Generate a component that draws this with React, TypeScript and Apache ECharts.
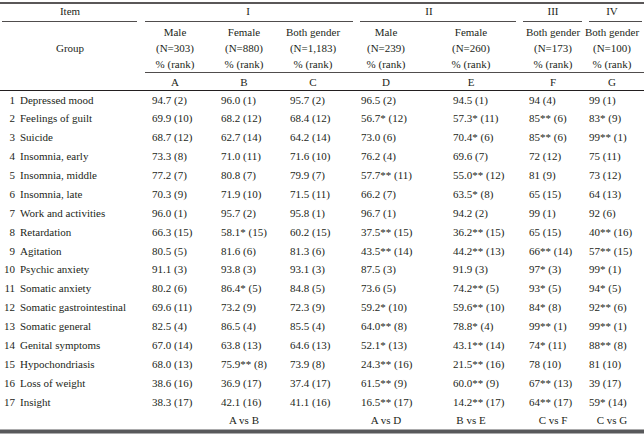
import React, { useEffect, useRef } from "react";
import * as echarts from "echarts";

const items = ["Depressed mood", "Feelings of guilt", "Suicide", "Insomnia, early", "Insomnia, middle", "Insomnia, late", "Work and activities", "Retardation", "Agitation", "Psychic anxiety", "Somatic anxiety", "Somatic gastrointestinal", "Somatic general", "Genital symptoms", "Hypochondriasis", "Loss of weight", "Insight"];

const colA = ["94.7 (2)", "69.9 (10)", "68.7 (12)", "73.3 (8)", "77.2 (7)", "70.3 (9)", "96.0 (1)", "66.3 (15)", "80.5 (5)", "91.1 (3)", "80.2 (6)", "69.6 (11)", "82.5 (4)", "67.0 (14)", "68.0 (13)", "38.6 (16)", "38.3 (17)"];
const colB = ["96.0 (1)", "68.2 (12)", "62.7 (14)", "71.0 (11)", "80.8 (7)", "71.9 (10)", "95.7 (2)", "58.1* (15)", "81.6 (6)", "93.8 (3)", "86.4* (5)", "73.2 (9)", "86.5 (4)", "63.8 (13)", "75.9** (8)", "36.9 (17)", "42.1 (16)"];
const colC = ["95.7 (2)", "68.4 (12)", "64.2 (14)", "71.6 (10)", "79.9 (7)", "71.5 (11)", "95.8 (1)", "60.2 (15)", "81.3 (6)", "93.1 (3)", "84.8 (5)", "72.3 (9)", "85.5 (4)", "64.6 (13)", "73.9 (8)", "37.4 (17)", "41.1 (16)"];
const colD = ["96.5 (2)", "56.7* (12)", "73.0 (6)", "76.2 (4)", "57.7** (11)", "66.2 (7)", "96.7 (1)", "37.5** (15)", "43.5** (14)", "87.5 (3)", "73.6 (5)", "59.2* (10)", "64.0** (8)", "52.1* (13)", "24.3** (16)", "61.5** (9)", "16.5** (17)"];
const colE = ["94.5 (1)", "57.3* (11)", "70.4* (6)", "69.6 (7)", "55.0** (12)", "63.5* (8)", "94.2 (2)", "36.2** (15)", "44.2** (13)", "91.9 (3)", "74.2** (5)", "59.6** (10)", "78.8* (4)", "43.1** (14)", "21.5** (16)", "60.0** (9)", "14.2** (17)"];
const colF = ["94 (4)", "85** (6)", "85** (6)", "72 (12)", "81 (9)", "65 (15)", "99 (1)", "65 (15)", "66** (14)", "97* (3)", "93* (5)", "84* (8)", "99** (1)", "74* (11)", "78 (10)", "67** (13)", "64** (17)"];
const colG = ["99 (1)", "83* (9)", "99** (1)", "75 (11)", "73 (12)", "64 (13)", "92 (6)", "40** (16)", "57** (15)", "99* (1)", "94* (5)", "92** (6)", "99** (1)", "88** (8)", "81 (10)", "39 (17)", "59* (14)"];

const groupLabels = ["I", "II", "III", "IV"];
const subHeaders = [
  ["Male", "(N=303)", "% (rank)"],
  ["Female", "(N=880)", "% (rank)"],
  ["Both gender", "(N=1,183)", "% (rank)"],
  ["Male", "(N=239)", "% (rank)"],
  ["Female", "(N=260)", "% (rank)"],
  ["Both gender", "(N=173)", "% (rank)"],
  ["Both gender", "(N=100)", "% (rank)"],
];
const letters = ["A", "B", "C", "D", "E", "F", "G"];
const comparisons = ["", "A vs B", "", "A vs D", "B vs E", "C vs F", "C vs G"];

// layout (positions only)
const FONT = "'Liberation Serif', 'Times New Roman', serif";
const COLOR = "#231f20";
const colCenters = [175, 244, 313, 386, 471, 553, 612];
const colLefts = [152, 221, 290, 361, 453, 529, 589];
const groupCenters = [248, 429, 553, 612];
const groupLines = [[2, 137], [145, 353], [360, 516], [523, 582], [589, 642]];

export default function App() {
  const ref = useRef<HTMLDivElement>(null);
  useEffect(() => {
    document.body.style.margin = "0";
    const chart = echarts.init(ref.current!, null, { renderer: "svg" });
    const els: any[] = [];
    const txt = (x: number, y: number, s: string, align = "center") =>
      els.push({
        type: "text",
        x,
        y,
        style: { text: s, fill: COLOR, font: `11px ${FONT}`, textAlign: align, textVerticalAlign: "middle" },
      });
    const hline = (x1: number, x2: number, y: number, w: number, c = COLOR) =>
      els.push({ type: "line", shape: { x1, y1: y, x2, y2: y }, style: { stroke: c, lineWidth: w } });

    hline(0, 644, 3, 1.5);
    txt(70, 10.5, "Item");
    groupLabels.forEach((g, i) => txt(groupCenters[i], 10.5, g));
    groupLines.forEach(([a, b]) => hline(a, b, 21.5, 0.8));
    txt(70, 47.5, "Group");
    subHeaders.forEach((lines, i) => lines.forEach((s, j) => txt(colCenters[i], 32 + j * 16.2, s)));
    hline(145, 644, 72.5, 0.8);
    letters.forEach((l, i) => txt(colCenters[i], 81.5, l));
    hline(0, 644, 90.5, 1);

    const cols = [colA, colB, colC, colD, colE, colF, colG];
    const rowStep = 18.875;
    items.forEach((name, r) => {
      const y = 99.5 + r * rowStep;
      txt(15, y, String(r + 1), "right");
      txt(20, y, name, "left");
      cols.forEach((col, c) => txt(colLefts[c], y, col[r], "left"));
    });
    const fy = 99.5 + items.length * rowStep;
    comparisons.forEach((s, i) => s && txt(colCenters[i], fy, s));
    hline(0, 644, 431.5, 4, "#58595b");

    chart.setOption({ animation: false, graphic: { elements: els } });
    return () => chart.dispose();
  }, []);
  return <div ref={ref} style={{ width: 644, height: 437, background: "#fff" }} />;
}
